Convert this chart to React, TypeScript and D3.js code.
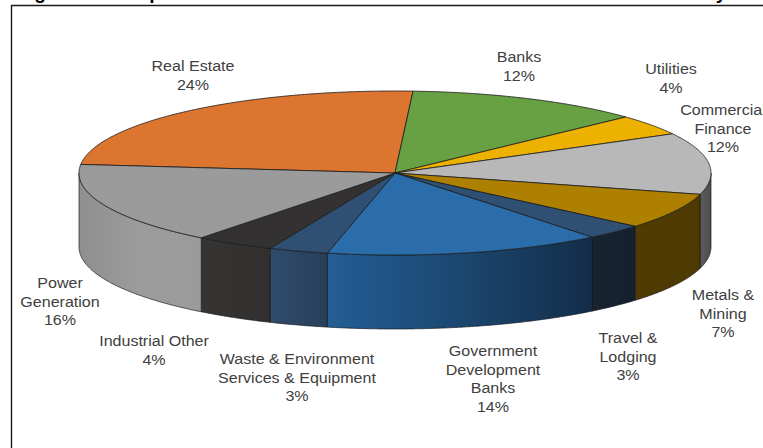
import React from "react";
import * as d3 from "d3";

const WIDTH = 763;
const HEIGHT = 448;

// Sector names and their shares in percent, clockwise from the Real Estate slice.
const sectors = [
  "Real Estate",
  "Banks",
  "Utilities",
  "Commercial Finance",
  "Metals & Mining",
  "Travel & Lodging",
  "Government Development Banks",
  "Waste & Environment Services & Equipment",
  "Industrial Other",
  "Power Generation",
];
const shares = [24, 12, 4, 12, 7, 3, 14, 3, 4, 16];

const topColors = [
  "#DC752F", "#68A044", "#EDB100", "#B8B8B8", "#AE8000",
  "#2F4F73", "#2A6DAA", "#2F4F73", "#333131", "#9B9B9B",
];

// Horizontal shading of each slice's outer wall, left to right.
const wallStops = [
  ["#8a4a1e", "#8a4a1e"],
  ["#40652a", "#40652a"],
  ["#94700a", "#94700a"],
  ["#5C5C5C", "#4E4E4E"],
  ["#503B02", "#4D3A02"],
  ["#17232F", "#14202E"],
  ["#235E95", "#1B4770", "#132D49"],
  ["#304B6E", "#283F59"],
  ["#363333", "#322F2F"],
  ["#8F8F8F", "#9C9C9C", "#9B9B9B"],
];

// Label lines for each slice, with their centre and first-line baseline.
const labelLines = [
  ["Real Estate", "24%"],
  ["Banks", "12%"],
  ["Utilities", "4%"],
  ["Commercial", "Finance", "12%"],
  ["Metals &", "Mining", "7%"],
  ["Travel &", "Lodging", "3%"],
  ["Government", "Development", "Banks", "14%"],
  ["Waste & Environment", "Services & Equipment", "3%"],
  ["Industrial Other", "4%"],
  ["Power", "Generation", "16%"],
];
const labelX = [193, 519, 671, 723, 723, 628, 493, 297, 154, 60];
const labelY = [71, 62, 74, 115, 300, 343, 356, 364, 346, 288];
const LINE_HEIGHT = 18.6;
const LABEL_STRETCH = 1.1;

// Descenders of the heading that runs above the frame.
const headingGlyphs = ["g", "p", "y"];
const headingX = [40, 155, 721];

const DEPTH = 74;
const START_DEG = -84;

const rad = (deg: number) => (deg * Math.PI) / 180;

const xRim = d3.scaleLinear().domain([-1, 1]).range([79, 711]);
const yRim = d3.scaleLinear().domain([-1, 1]).range([91, 255]);

const px = (a: number) => xRim(Math.sin(a));
const py = (a: number) => yRim(-Math.cos(a));

const pieLayout = d3
  .pie<number>()
  .sort(null)
  .startAngle(rad(START_DEG))
  .endAngle(rad(START_DEG + 360));

const arcs = pieLayout(shares);
const line = d3.line<[number, number]>();

function rimPoints(a0: number, a1: number): [number, number][] {
  const n = Math.max(2, Math.ceil((a1 - a0) / rad(0.5)));
  return d3.range(n + 1).map((i) => {
    const a = a0 + ((a1 - a0) * i) / n;
    return [px(a), py(a)] as [number, number];
  });
}

// The wall is visible only along the front half of the rim, 90° to 270°.
function frontSpans(a0: number, a1: number): [number, number][] {
  const spans: [number, number][] = [];
  for (const k of [-1, 0, 1]) {
    const lo = Math.max(a0, Math.PI / 2 + k * 2 * Math.PI);
    const hi = Math.min(a1, (3 * Math.PI) / 2 + k * 2 * Math.PI);
    if (hi > lo) spans.push([lo, hi]);
  }
  return spans;
}

export default function App() {
  const walls = arcs.flatMap((arc, i) =>
    frontSpans(arc.startAngle, arc.endAngle).map(([lo, hi]) => {
      const top = rimPoints(lo, hi);
      const bottom = top
        .map(([x, y]) => [x, y + DEPTH] as [number, number])
        .reverse();
      const xs = top.map((p) => p[0]);
      return {
        i,
        d: line([...top, ...bottom]) + "Z",
        x1: d3.min(xs) as number,
        x2: d3.max(xs) as number,
      };
    })
  );

  return (
    <svg
      width={WIDTH}
      height={HEIGHT}
      viewBox={`0 0 ${WIDTH} ${HEIGHT}`}
      style={{ position: "absolute", left: 0, top: 0, display: "block", background: "#fff" }}
      fontFamily="'Liberation Sans', Arial, sans-serif"
    >
      <defs>
        {walls.map((w) => (
          <linearGradient
            key={w.i}
            id={`wall-${w.i}`}
            gradientUnits="userSpaceOnUse"
            x1={w.x1}
            x2={w.x2}
            y1={0}
            y2={0}
          >
            {wallStops[w.i].map((c, j, all) => (
              <stop key={j} offset={j / (all.length - 1)} stopColor={c} />
            ))}
          </linearGradient>
        ))}
      </defs>

      {headingGlyphs.map((g, i) => (
        <text key={g} x={headingX[i]} y={-1} fontSize={19} fontWeight={700} textAnchor="middle" fill="#000">
          {g}
        </text>
      ))}

      <path d={`M11.5,${HEIGHT}V5.5H${WIDTH}`} fill="none" stroke="#1a1a1a" strokeWidth={1.4} />

      {walls.map((w) => (
        <path key={w.i} d={w.d} fill={`url(#wall-${w.i})`} stroke="#16181c" strokeWidth={0.8} strokeOpacity={0.85} />
      ))}

      {arcs.map((arc, i) => {
        const cx = xRim(0);
        const cy = yRim(0);
        const points: [number, number][] = [[cx, cy], ...rimPoints(arc.startAngle, arc.endAngle)];
        return (
          <path
            key={sectors[i]}
            d={line(points) + "Z"}
            fill={topColors[i]}
            stroke="#1c1c1c"
            strokeWidth={0.8}
            strokeLinejoin="round"
          />
        );
      })}

      {labelLines.map((lines, i) => (
        <text
          key={sectors[i]}
          transform={`translate(${labelX[i]},0) scale(${LABEL_STRETCH},1)`}
          textAnchor="middle"
          fontSize={14.6}
          fill="#404040"
        >
          {lines.map((t, j) => (
            <tspan key={j} x={0} y={labelY[i] + j * LINE_HEIGHT}>
              {t}
            </tspan>
          ))}
        </text>
      ))}
    </svg>
  );
}
